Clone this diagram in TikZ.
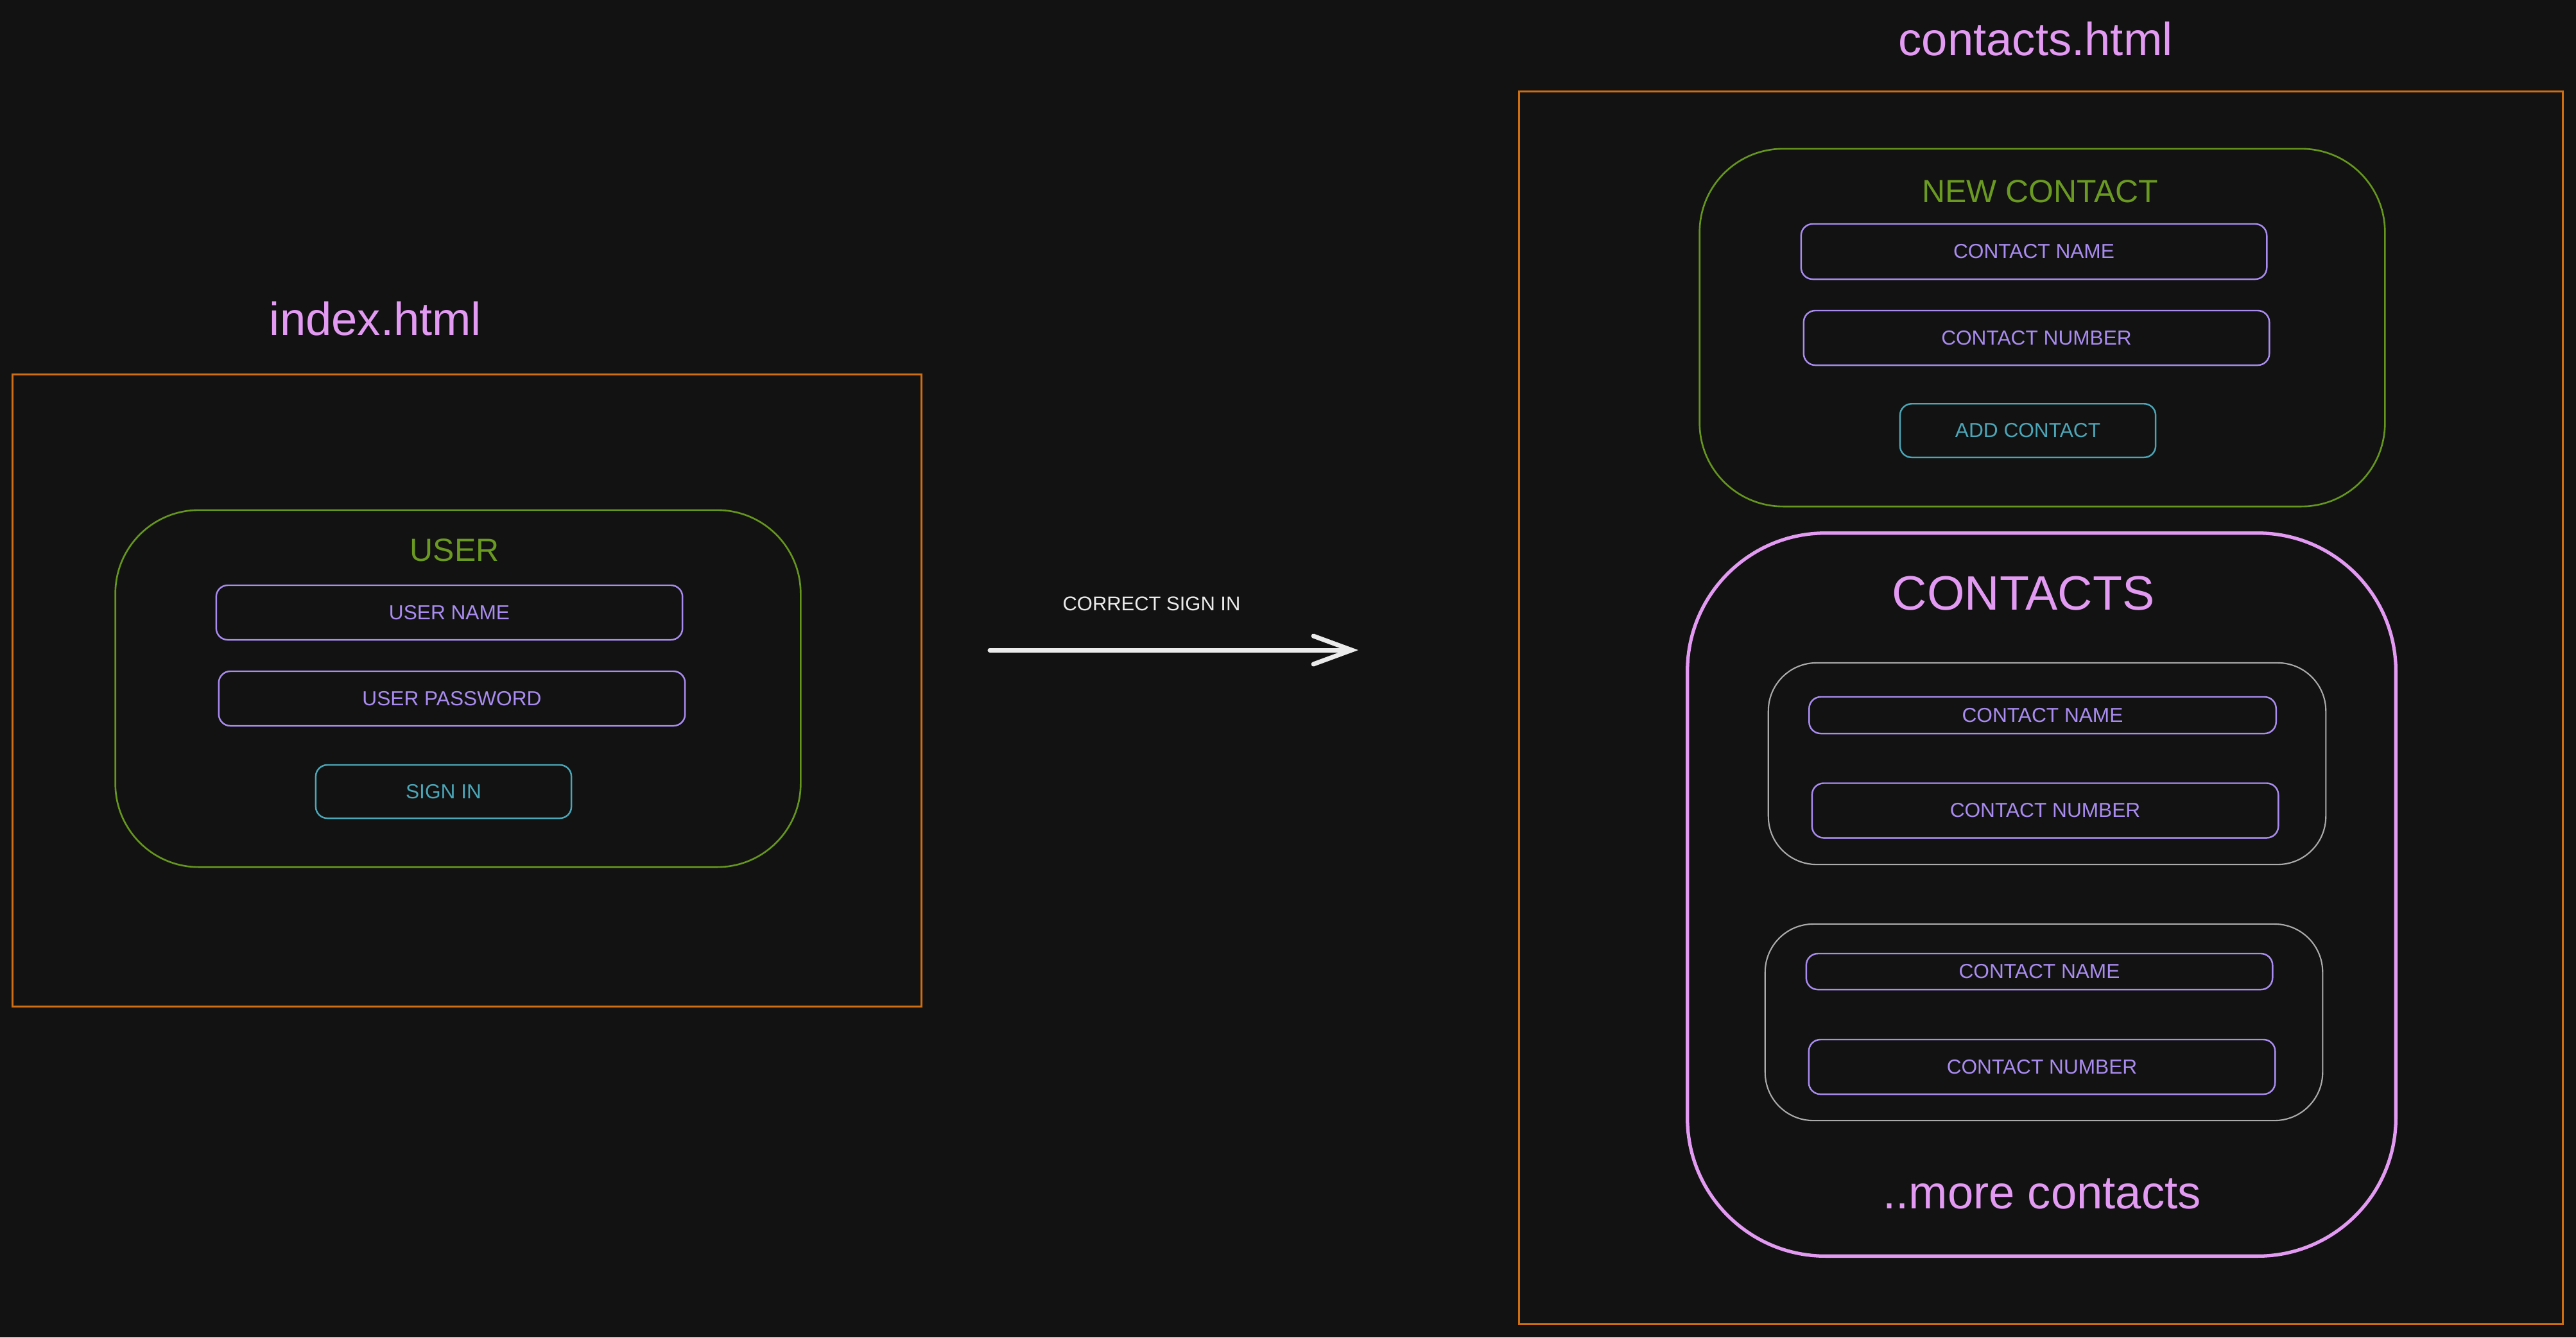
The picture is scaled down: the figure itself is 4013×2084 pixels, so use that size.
\documentclass[tikz,border=0pt]{standalone}
\usepackage{fontspec}
\setmainfont{Liberation Sans}
\usetikzlibrary{arrows.meta}
\definecolor{bg}{HTML}{121212}
\definecolor{pageor}{HTML}{D06E12}
\definecolor{grn}{HTML}{65961E}
\definecolor{grntxt}{HTML}{6A9A22}
\definecolor{purp}{HTML}{A98CF0}
\definecolor{tealc}{HTML}{4BA6B8}
\definecolor{pinkc}{HTML}{E39AF2}
\definecolor{greyc}{HTML}{ABABAB}
\definecolor{whitec}{HTML}{EBEBEB}
\begin{document}
\begin{tikzpicture}[x=0.01cm,y=-0.01cm,
  pagebox/.style={draw=pageor, line width=0.8pt, inner sep=0pt},
  groupbox/.style={draw=grn, line width=0.75pt, rounded corners=1.3cm, inner sep=0pt},
  listbox/.style={draw=pinkc, line width=1.5pt, rounded corners=2.15cm, inner sep=0pt},
  itembox/.style={draw=greyc, line width=0.6pt, rounded corners=0.75cm, inner sep=0pt},
  field/.style={draw=purp, line width=0.7pt, rounded corners=0.18cm, text=purp, font=\fontsize{9}{11}\selectfont, inner sep=0pt},
  button/.style={field, draw=tealc, text=tealc},
  bigtitle/.style={text=pinkc, font=\fontsize{20.6}{24}\selectfont, inner sep=0pt, anchor=base},
  grouptitle/.style={text=grntxt, font=\fontsize{14.2}{17}\selectfont, inner sep=0pt, anchor=base},
  label/.style={text=whitec, font=\fontsize{8.8}{11}\selectfont, inner sep=0pt},
  flow/.style={draw=whitec, line width=2pt, line cap=round, -{Straight Barb[length=17pt,width=12.5pt,line cap=round]}}
]
\fill[bg] (0,0) rectangle (4013,2084);
\useasboundingbox (0,0) rectangle (4013,2084);

% ---- index.html ----
\node[bigtitle] (idxtitle) at (585,522) {index.html};
\node[pagebox, minimum width=14.15cm, minimum height=9.84cm] (idx) at (727.5,1076) {};
\node[groupbox, minimum width=10.67cm, minimum height=5.56cm] (user) at (713.5,1073) {};
\node[grouptitle] (usertitle) at (708,874) {USER};
\node[field, minimum width=7.26cm, minimum height=0.85cm] (uname) at (700,954.5) {USER NAME};
\node[field, minimum width=7.26cm, minimum height=0.85cm] (upass) at (704,1088.5) {USER PASSWORD};
\node[button, minimum width=3.98cm, minimum height=0.83cm] (signin) at (691,1233.5) {SIGN IN};

% ---- arrow ----
\coordinate (as) at (1542,1013);
\coordinate (ae) at (2116,1013);
\draw[flow] (as) -- (ae);
\node[label] (arrlabel) at (1794,941) {CORRECT SIGN IN};

% ---- contacts.html ----
\node[bigtitle] (ctitle) at (3171,86) {contacts.html};
\node[pagebox, minimum width=16.25cm, minimum height=19.2cm] (cpage) at (3179.5,1103) {};

\node[groupbox, minimum width=10.67cm, minimum height=5.57cm] (newc) at (3181.5,510.5) {};
\node[grouptitle] (newctitle) at (3178,315) {NEW CONTACT};
\node[field, minimum width=7.25cm, minimum height=0.86cm] (ncname) at (3168.5,392) {CONTACT NAME};
\node[field, minimum width=7.25cm, minimum height=0.85cm] (ncnum) at (3172.5,526.5) {CONTACT NUMBER};
\node[button, minimum width=3.98cm, minimum height=0.835cm] (addc) at (3159,671) {ADD CONTACT};

\node[listbox, minimum width=11.03cm, minimum height=11.26cm] (clist) at (3180.5,1394) {};
\node[bigtitle, font=\fontsize{21.4}{25}\selectfont] (clisttitle) at (3152,950) {CONTACTS};

\node[itembox, minimum width=8.68cm, minimum height=3.14cm] (item1) at (3189,1190) {};
\node[field, minimum width=7.27cm, minimum height=0.57cm] (i1name) at (3182,1114.5) {CONTACT NAME};
\node[field, minimum width=7.26cm, minimum height=0.85cm] (i1num) at (3186,1263) {CONTACT NUMBER};

\node[itembox, minimum width=8.68cm, minimum height=3.06cm] (item2) at (3184,1593) {};
\node[field, minimum width=7.26cm, minimum height=0.56cm] (i2name) at (3177,1514) {CONTACT NAME};
\node[field, minimum width=7.26cm, minimum height=0.85cm] (i2num) at (3181,1662.5) {CONTACT NUMBER};

\node[bigtitle] (more) at (3181,1883) {..more contacts};
\end{tikzpicture}
\end{document}
